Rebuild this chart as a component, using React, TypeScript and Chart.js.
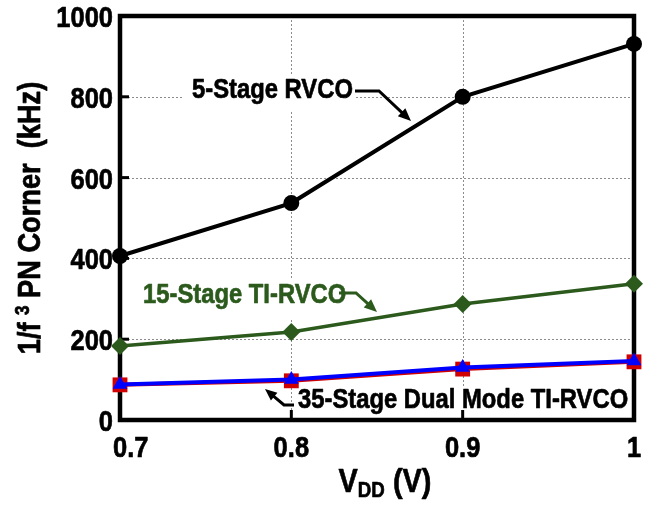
import React, { useEffect, useRef } from "react";
import { Chart, registerables } from "chart.js";
Chart.register(...registerables);

const vdd = [0.7, 0.8, 0.9, 1.0];
const xTickLabels = ["0.7", "0.8", "0.9", "1"];
const yTicks = [0, 200, 400, 600, 800, 1000];
const rvco5 = [406, 537, 800, 931];
const tiRvco15 = [183, 218, 287, 337];
const dual35Red = [87, 97, 126, 144];
const dual35Blue = [88, 100, 130, 146];
const seriesNames = ["5-Stage RVCO", "15-Stage TI-RVCO", "35-Stage Dual Mode TI-RVCO"];

const FF = "'Liberation Sans', Arial, sans-serif";
const SX = 0.85; // horizontal condensing (Arial Narrow look)
const GREEN = "#2b5a1c";

function nText(
  ctx: CanvasRenderingContext2D, text: string, x: number, y: number, size: number,
  color: string, align: "left" | "center" | "right" = "left"
) {
  ctx.save();
  ctx.font = `bold ${size}px ${FF}`;
  ctx.textBaseline = "alphabetic";
  ctx.textAlign = "left";
  const w = ctx.measureText(text).width * SX;
  const left = align === "center" ? x - w / 2 : align === "right" ? x - w : x;
  ctx.translate(left, y);
  ctx.scale(SX, 1);
  ctx.fillStyle = color;
  ctx.strokeStyle = color;
  ctx.lineWidth = 0.7;
  ctx.lineJoin = "round";
  ctx.fillText(text, 0, 0);
  ctx.strokeText(text, 0, 0);
  ctx.restore();
  return w;
}

function arrow(ctx: CanvasRenderingContext2D, pts: number[][], color: string, w: number, head: number) {
  ctx.save();
  ctx.strokeStyle = color;
  ctx.fillStyle = color;
  ctx.lineWidth = w;
  const n = pts.length;
  const [ex, ey] = pts[n - 1];
  const [px, py] = pts[n - 2];
  const ang = Math.atan2(ey - py, ex - px);
  ctx.beginPath();
  ctx.moveTo(pts[0][0], pts[0][1]);
  for (let i = 1; i < n - 1; i++) ctx.lineTo(pts[i][0], pts[i][1]);
  ctx.lineTo(ex - Math.cos(ang) * head * 0.7, ey - Math.sin(ang) * head * 0.7);
  ctx.stroke();
  ctx.beginPath();
  ctx.moveTo(ex, ey);
  ctx.lineTo(ex - Math.cos(ang - 0.4) * head, ey - Math.sin(ang - 0.4) * head);
  ctx.lineTo(ex - Math.cos(ang + 0.4) * head, ey - Math.sin(ang + 0.4) * head);
  ctx.closePath();
  ctx.fill();
  ctx.restore();
}

function label(ctx: CanvasRenderingContext2D, text: string, x: number, y: number, color: string, size: number, box: number[]) {
  ctx.save();
  ctx.fillStyle = "#fff";
  ctx.fillRect(box[0], box[1], box[2] - box[0], box[3] - box[1]);
  ctx.restore();
  nText(ctx, text, x, y, size, color, "left");
}

const decor = {
  id: "decor",
  beforeDatasetsDraw(chart: any) {
    const { ctx, chartArea: a, scales } = chart;
    const x = scales.x, y = scales.y;
    ctx.save();
    ctx.strokeStyle = "#8c8c8c";
    ctx.lineWidth = 1;
    ctx.setLineDash([2, 2]);
    for (const v of yTicks.slice(1, -1)) {
      const py = Math.round(y.getPixelForValue(v)) + 0.5;
      ctx.beginPath(); ctx.moveTo(a.left, py); ctx.lineTo(a.right, py); ctx.stroke();
    }
    for (const v of vdd.slice(1, -1)) {
      const px = Math.round(x.getPixelForValue(v)) + 0.5;
      ctx.beginPath(); ctx.moveTo(px, a.top); ctx.lineTo(px, a.bottom); ctx.stroke();
    }
    ctx.setLineDash([]);
    // annotation labels
    label(ctx, seriesNames[0], 192, 98, "#000", 28, [182, 76, 354, 110]);
    label(ctx, seriesNames[1], 143, 303, GREEN, 28, [138, 278, 340, 318]);
    label(ctx, seriesNames[2], 298, 408, "#000", 28, [296, 386, 628, 414]);
    arrow(ctx, [[355, 91], [379, 91], [411, 121]], "#000", 3, 14);
    arrow(ctx, [[339, 293], [356, 293], [377, 312]], GREEN, 3, 14);
    arrow(ctx, [[294, 405], [284, 405], [265, 389]], "#000", 3, 13);
    // frame
    ctx.strokeStyle = "#000";
    ctx.lineWidth = 4.5;
    ctx.strokeRect(a.left, a.top, a.right - a.left, a.bottom - a.top);
    ctx.lineWidth = 3;
    for (const v of yTicks.slice(1, -1)) {
      const py = y.getPixelForValue(v);
      ctx.beginPath(); ctx.moveTo(a.left, py); ctx.lineTo(a.left + 9, py); ctx.stroke();
    }
    for (const v of vdd.slice(1, -1)) {
      const px = x.getPixelForValue(v);
      ctx.beginPath(); ctx.moveTo(px, a.bottom); ctx.lineTo(px, a.bottom - 10); ctx.stroke();
    }
    ctx.restore();
  },
  afterDraw(chart: any) {
    const { ctx, chartArea: a, scales } = chart;
    const x = scales.x, y = scales.y;
    // tick labels
    for (const v of yTicks) {
      const py = y.getPixelForValue(v);
      nText(ctx, String(v), a.left - 7, py + 11, 30, "#000", "right");
    }
    vdd.forEach((v, i) => {
      const px = x.getPixelForValue(v);
      ctx.save();
      ctx.font = `bold 30px ${FF}`;
      const w = ctx.measureText(xTickLabels[i]).width * SX;
      ctx.restore();
      const cx = Math.max(px, a.left - 7 + w / 2);
      nText(ctx, xTickLabels[i], cx, 457, 30, "#000", "center");
    });
    ctx.save();
    ctx.fillStyle = "#000";
    // y title
    const pieces = [
      { t: "1/f", s: 32, dy: 0 },
      { t: " ", s: 32, dy: 0 },
      { t: "3", s: 20, dy: -11 },
      { t: " PN Corner  (kHz)", s: 32, dy: 0 },
    ];
    let total = 0;
    for (const p of pieces) { ctx.font = `bold ${p.s}px ${FF}`; total += ctx.measureText(p.t).width * SX; }
    ctx.translate(40, (a.top + a.bottom) / 2);
    ctx.rotate(-Math.PI / 2);
    let cx = -total / 2;
    for (const p of pieces) {
      cx += nText(ctx, p.t, cx, p.dy, p.s, "#000", "left");
    }
    ctx.setTransform(1, 0, 0, 1, 0, 0);
    // x title
    const xp = [
      { t: "V", s: 34, dy: 0 },
      { t: "DD", s: 22, dy: 5 },
      { t: " (V)", s: 34, dy: 0 },
    ];
    total = 0;
    for (const p of xp) { ctx.font = `bold ${p.s}px ${FF}`; total += ctx.measureText(p.t).width * SX; }
    cx = (a.left + a.right) / 2 - total / 2 + 8;
    for (const p of xp) {
      cx += nText(ctx, p.t, cx, 492 + p.dy, p.s, "#000", "left");
    }
    ctx.restore();
  },
};

export default function App() {
  const ref = useRef<HTMLCanvasElement>(null);
  useEffect(() => {
    document.body.style.margin = "0";
    const pts = (arr: number[]) => arr.map((v, i) => ({ x: vdd[i], y: v }));
    const chart = new Chart(ref.current!, {
      type: "line",
      data: {
        datasets: [
          {
            label: seriesNames[0], data: pts(rvco5), borderColor: "#000", backgroundColor: "#000", order: 2,
            borderWidth: 4, pointStyle: "circle", pointRadius: 8, pointBorderWidth: 0, clip: false as any,
          },
          {
            label: seriesNames[1], data: pts(tiRvco15), borderColor: GREEN, backgroundColor: GREEN, order: 3,
            borderWidth: 3.5, pointStyle: "rectRot", pointRadius: 9, pointBorderWidth: 0, clip: false as any,
          },
          {
            label: seriesNames[2], data: pts(dual35Red), borderColor: "#d00000", backgroundColor: "#d00000", order: 1,
            borderWidth: 4, pointStyle: "rect", pointRadius: 10.5, pointBorderWidth: 0, clip: false as any,
          },
          {
            label: seriesNames[2] + " (b)", data: pts(dual35Blue), borderColor: "#0000ff", backgroundColor: "#0000ff", order: 0,
            borderWidth: 4, pointStyle: "triangle", pointRadius: 8.5, pointBorderWidth: 0, clip: false as any,
          },
        ],
      },
      options: {
        animation: false,
        responsive: false,
        devicePixelRatio: 1,
        layout: { padding: { top: 16, right: 24, left: 0, bottom: 0 } },
        plugins: { legend: { display: false }, tooltip: { enabled: false } },
        scales: {
          x: {
            type: "linear", min: 0.7, max: 1.0,
            grid: { display: false, drawTicks: false }, border: { display: false },
            afterBuildTicks: (s: any) => { s.ticks = vdd.map((v) => ({ value: v })); },
            ticks: { display: false },
            afterFit: (s: any) => { s.height = 85; },
          },
          y: {
            min: 0, max: 1000,
            grid: { display: false, drawTicks: false }, border: { display: false },
            afterBuildTicks: (s: any) => { s.ticks = yTicks.map((v) => ({ value: v })); },
            ticks: { display: false },
            afterFit: (s: any) => { s.width = 120; },
          },
        },
      },
      plugins: [decor],
    } as any);
    return () => chart.destroy();
  }, []);
  return (
    <div style={{ position: "absolute", left: 0, top: 0 }}>
      <canvas ref={ref} width={658} height={505} style={{ width: 658, height: 505 }} />
    </div>
  );
}
